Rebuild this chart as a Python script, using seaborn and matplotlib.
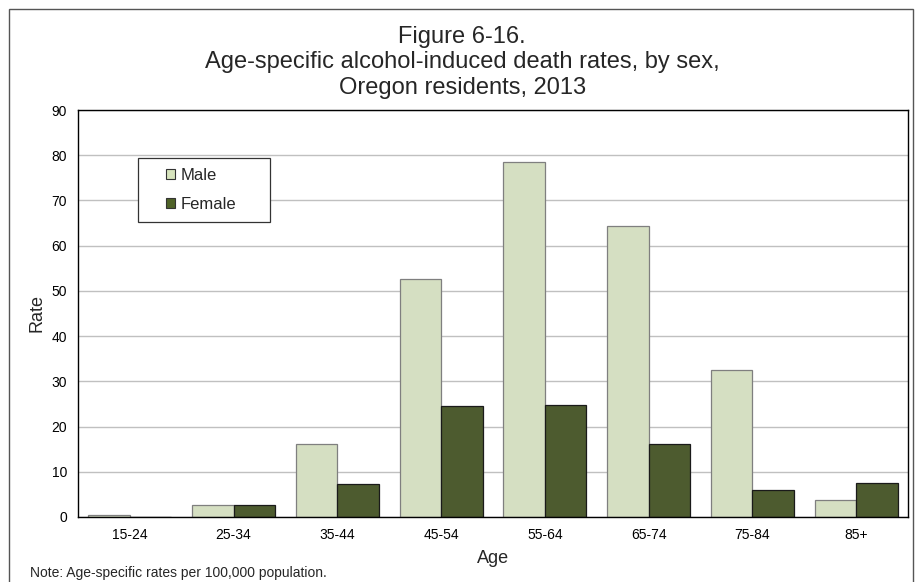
import matplotlib
matplotlib.use("Agg")
import matplotlib.pyplot as plt
import seaborn as sns
import pandas as pd
from matplotlib.patches import Rectangle, Patch

ages = ["15-24", "25-34", "35-44", "45-54", "55-64", "65-74", "75-84", "85+"]
male = [0.5, 2.6, 16.2, 52.6, 78.5, 64.3, 32.4, 3.7]
female = [0.0, 2.6, 7.4, 24.5, 24.8, 16.2, 5.9, 7.6]
series = ["Male", "Female"]
colors = {"Male": "#D7E4BD", "Female": "#4F6228"}
edges = {"Male": "#7F7F7F", "Female": "#1a1a1a"}

df = pd.DataFrame({
    "Age": ages * 2,
    "Rate": male + female,
    "Sex": ["Male"] * len(ages) + ["Female"] * len(ages),
})

sns.set_theme(style="white")
plt.rcParams["font.family"] = ["Liberation Sans", "DejaVu Sans"]

fig = plt.figure(figsize=(9.15, 5.82), dpi=100)
ax = fig.add_axes([78 / 915, 1 - 517 / 582, 830 / 915, 407 / 582])

sns.barplot(data=df, x="Age", y="Rate", hue="Sex", order=ages, hue_order=series,
            palette=colors, width=0.8, ax=ax, linewidth=0.8, legend=False)

for container, s in zip(ax.containers, series):
    for bar in container:
        bar.set_edgecolor(edges[s])
        bar.set_linewidth(0.9)

ax.set_ylim(0, 90)
ax.set_yticks(range(0, 91, 10))
ax.set_xlim(-0.5, len(ages) - 0.5)
ax.yaxis.grid(True, color="#c0c0c0", linewidth=1)
ax.set_axisbelow(True)
for sp in ax.spines.values():
    sp.set_visible(True)
    sp.set_color("black")
    sp.set_linewidth(1)
ax.tick_params(axis="both", length=0, labelsize=10, colors="black")
ax.tick_params(axis="y", pad=8)
ax.tick_params(axis="x", pad=8)
ax.set_xlabel("Age", fontsize=13, labelpad=6)
ax.set_ylabel("Rate", fontsize=13, labelpad=4)

# legend box
ax.add_patch(Rectangle((60 / 830, 295 / 407), 132 / 830, 64 / 407, transform=ax.transAxes,
                       facecolor="white", edgecolor="#333333", linewidth=0.9, zorder=4))
handles = [Patch(facecolor=colors[s], edgecolor="#333333", linewidth=0.8) for s in series]
leg = ax.legend(handles, series, loc="center left", bbox_to_anchor=(88 / 830, 327 / 407),
                fontsize=12, frameon=False,
                handlelength=0.55, handleheight=0.55, handletextpad=0.3,
                borderpad=0, labelspacing=0.85, borderaxespad=0)
leg.set_zorder(5)

fig.text(0.505, 1 - 26 / 582, "Figure 6-16.\nAge-specific alcohol-induced death rates, by sex,\nOregon residents, 2013",
         ha="center", va="top", fontsize=17, linespacing=1.2)
fig.text(30 / 915, 1 - 573 / 582, "Note: Age-specific rates per 100,000 population.", fontsize=10,
         ha="left", va="center")

fig.patches.append(Rectangle((9 / 915, -0.01), 904 / 915, 1 - 9 / 582 + 0.01,
                             transform=fig.transFigure, fill=False,
                             edgecolor="#555555", linewidth=1))

fig.savefig("out.png", dpi=100)
